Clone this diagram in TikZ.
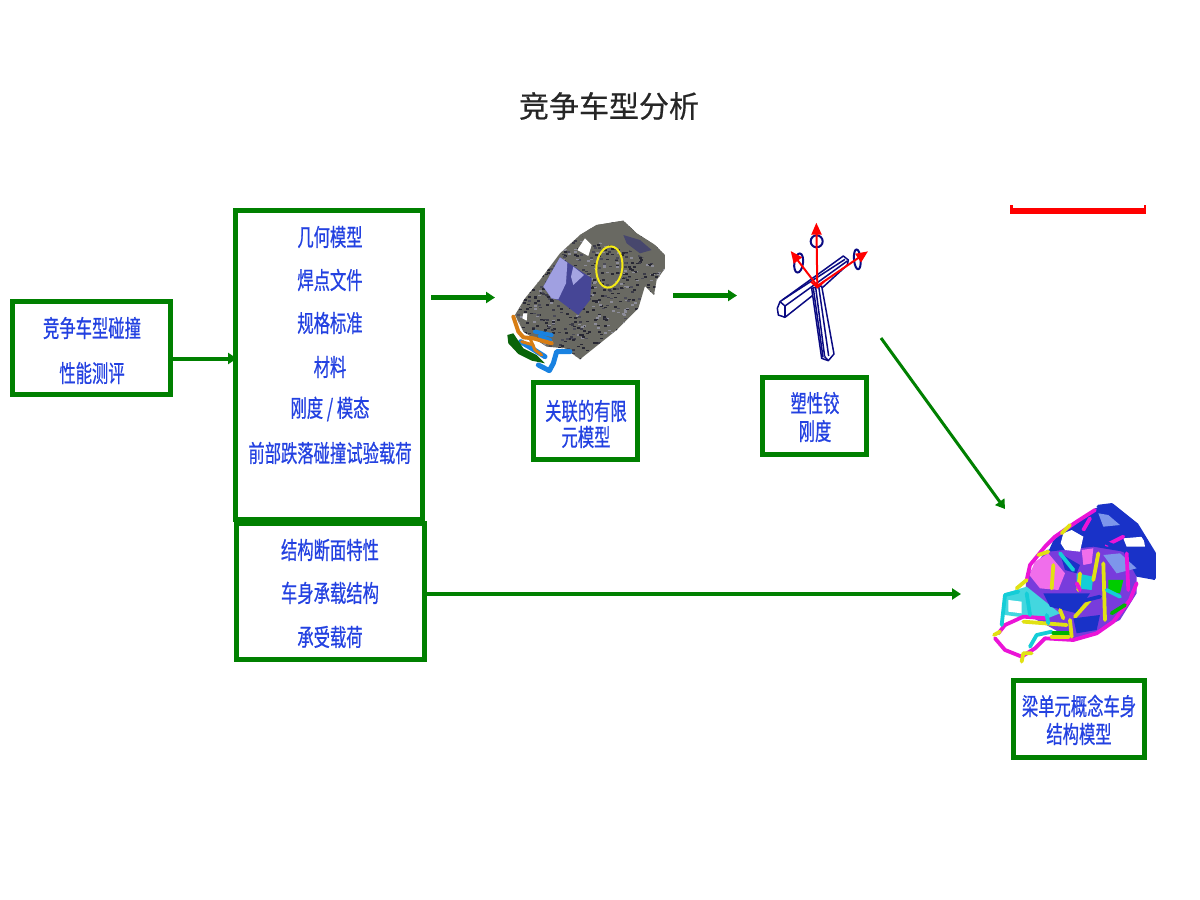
\documentclass[tikz,border=0pt]{standalone}
\usepackage{fontspec}
\setmainfont{Liberation Sans}
\newfontfamily\cjk[FakeStretch=0.68,FakeBold=0.6]{Noto Sans CJK SC}
\newfontfamily\cjktitle[FakeBold=0.5]{Noto Sans CJK SC}
\usetikzlibrary{arrows.meta}
\definecolor{boxgreen}{RGB}{0,128,0}
\definecolor{txtblue}{RGB}{35,65,225}
\definecolor{navyb}{RGB}{10,10,130}
\definecolor{cargray}{RGB}{105,105,98}
\definecolor{mag}{RGB}{235,20,215}
\definecolor{ylw}{RGB}{225,225,20}
\definecolor{cyn}{RGB}{20,205,215}
\definecolor{blu}{RGB}{25,50,200}
\definecolor{pinkm}{RGB}{240,110,235}
\definecolor{partblue}{RGB}{25,130,225}
\definecolor{partorange}{RGB}{215,125,20}
\definecolor{partgreen}{RGB}{10,100,10}
\tikzset{
  gbox/.style={draw=boxgreen,line width=5pt,fill=white,inner sep=0pt,sharp corners},
  tline/.style={font=\cjk\fontsize{24}{24}\selectfont,text=txtblue,inner sep=0pt,anchor=center},
  flow/.style={draw=boxgreen,line width=#1,-{Triangle[length=9pt,width=11pt]}},
  flow/.default=4pt,
  beam/.style={draw=navyb,line width=1.5pt,line join=round},
  redar/.style={draw=red,line width=2pt,-{Triangle[length=12pt,width=10pt]}},
  fmline/.style={line width=3.8pt,line cap=round,line join=round},
  part/.style={line width=#1,line cap=round,line join=round},
  part/.default=4pt,
}
\begin{document}
\begin{tikzpicture}[x=1pt,y=-1pt]
\useasboundingbox (0,0) rectangle (1200,900);
\fill[white] (0,0) rectangle (1200,900);

% title
\node[font=\cjktitle\fontsize{30}{30}\selectfont,text=black!85,inner sep=0pt] (title) at (609,106) {竞争车型分析};

% red bar
\fill[red] (1010,208) rectangle (1146,214);
\fill[red] (1010,205) rectangle (1012.5,214);
\fill[red] (1143.5,205) rectangle (1146,214);

% boxes
\node[gbox,minimum width=158pt,minimum height=93pt] (perf) at (91.5,348) {};
\node[gbox,minimum width=187pt,minimum height=308.5pt] (geo) at (329,364.75) {};
\node[gbox,minimum width=188.5pt,minimum height=136.5pt] (sec) at (330.25,591.25) {};
\node[gbox,minimum width=104pt,minimum height=77pt] (fe) at (585.5,421) {};
\node[gbox,minimum width=104pt,minimum height=77pt] (hinge) at (814.5,416) {};
\node[gbox,minimum width=131pt,minimum height=77pt] (beamc) at (1079,719) {};

% texts
\node[tline] (p1) at (92,328) {竞争车型碰撞};
\node[tline] (p2) at (92,373) {性能测评};
\node[tline] (g1) at (330,237) {几何模型};
\node[tline] (g2) at (330,280) {焊点文件};
\node[tline] (g3) at (330,323) {规格标准};
\node[tline] (g4) at (330,367) {材料};
\node[tline] (g5) at (330,409) {刚度 / 模态};
\node[tline] (g6) at (330,453) {前部跌落碰撞试验载荷};
\node[tline] (s1) at (330,550) {结构断面特性};
\node[tline] (s2) at (330,593) {车身承载结构};
\node[tline] (s3) at (330,637) {承受载荷};
\node[tline] (f1) at (586,411) {关联的有限};
\node[tline] (f2) at (586,437) {元模型};
\node[tline] (h1) at (815,403) {塑性铰};
\node[tline] (h2) at (815,431) {刚度};
\node[tline] (b1) at (1079,706) {梁单元概念车身};
\node[tline] (b2) at (1079,734) {结构模型};

% connector ends
\coordinate (c1) at (431,297.5);
\coordinate (c2) at (495,297.5);
\coordinate (c3) at (673,295.5);
\coordinate (c4) at (737,295.5);
\coordinate (c5) at (881,338);
\coordinate (c6) at (1005,509);
\coordinate (c7) at (961,594);
\coordinate (c8) at (237,358.5);
\coordinate (c9) at (427,594);
\coordinate (c10) at (172,358.5);

\draw[flow=4pt] (c10) -- (c8);
\draw[flow=5pt] (c1) -- (c2);
\draw[flow=5pt] (c3) -- (c4);
\draw[flow=3pt] (c5) -- (c6);
\draw[flow=4pt] (c9) -- (c7);

% ---------- car body (zoom coordinates)
\begin{scope}[shift={(490,200)},x=0.3333pt,y=-0.3333pt]
  \def\carbody{(75,345) -- (105,295) -- (150,240) -- (210,160) -- (270,105) -- (320,75) -- (400,62) -- (440,100) -- (495,135) -- (525,165) -- (525,205) -- (500,240) -- (492,285) -- (465,258) -- (445,325) -- (380,390) -- (270,478) -- (225,445) -- (170,440) -- (100,395) -- cycle}
  \begin{scope}
    \clip \carbody;
    \fill[cargray] (0,0) rectangle (600,540);
    \pgfmathsetseed{7}
    \foreach \i in {1,...,900}{
      \pgfmathsetmacro{\xa}{70+rnd*460}
      \pgfmathsetmacro{\ya}{60+rnd*420}
      \pgfmathsetmacro{\sh}{rnd}
      \pgfmathsetmacro{\gv}{\sh<0.45?40:(\sh<0.7?140:(\sh<0.85?75:60))}
      \pgfmathsetmacro{\gb}{\gv+12}
      \definecolor{spk}{RGB}{\gv,\gv,\gb}
      \fill[spk] (\xa,\ya) rectangle ++(9,5);
    }
    % plain roof and quarter panel
    \fill[cargray] (270,105) -- (320,75) -- (400,62) -- (440,100) -- (495,135) -- (525,165) -- (525,205) -- (490,190) -- (430,155) -- (350,130) -- (300,125) -- cycle;
    \fill[navyb,opacity=.35] (400,105) -- (450,120) -- (485,150) -- (450,160) -- (410,130) -- cycle;
  \end{scope}
  % windscreen
  \fill[fill={rgb,255:red,70;green,70;blue,150}] (210,172) -- (305,235) -- (300,300) -- (265,345) -- (205,300) -- (185,295) -- (160,260) -- cycle;
  \fill[fill={rgb,255:red,160;green,160;blue,225}] (210,172) -- (232,188) -- (228,250) -- (205,298) -- (185,295) -- (160,260) -- cycle;
  \fill[fill={rgb,255:red,165;green,165;blue,225}] (250,200) -- (282,225) -- (250,255) -- (243,230) -- cycle;
  % window openings
  \fill[white] (285,115) -- (305,135) -- (295,168) -- (262,150) -- cycle;
  \fill[white] (100,340) -- (112,340) -- (110,362) -- (97,355) -- cycle;
  % yellow ellipse
  \draw[color={rgb,255:red,245;green,235;blue,20},line width=2pt,rotate around={-6:(358,201)}] (358,201) ellipse (39 and 62);
  % front parts
  \draw[part=4pt,color=partblue] (135,395) -- (185,405);
  \draw[part=4pt,color=partblue] (150,408) -- (180,420);
  \draw[part=5pt,color=partblue] (92,425) -- (125,445) -- (165,470);
  \draw[part=5pt,color=partblue] (240,455) -- (200,455) -- (190,490) -- (178,512) -- (145,495);
  \draw[part=4pt,color=partorange] (70,350) -- (85,395) -- (100,412) -- (130,415) -- (185,430);
  \draw[part=3pt,color=partorange] (120,415) -- (135,450) -- (155,465);
  \draw[part=3pt,color=partorange] (95,425) -- (130,435);
  \fill[color=partgreen] (52,405) -- (70,400) -- (100,445) -- (140,465) -- (165,490) -- (125,482) -- (85,462) -- (55,430) -- cycle;
\end{scope}

% ---------- hinge sketch (zoom coordinates)
\begin{scope}[shift={(750,200)},x=0.3333pt,y=-0.3333pt]
  % cross beam
  \draw[beam,fill=white] (90,305) -- (280,168) -- (295,180) -- (292,195) -- (215,265) -- (105,352) -- (85,345) -- (82,325) -- cycle;
  \draw[beam] (90,305) -- (105,318) -- (292,183);
  \draw[beam] (97,300) -- (285,178);
  \draw[beam] (105,318) -- (105,352);
  % vertical beam
  \draw[beam,fill=white] (185,265) -- (215,258) -- (252,462) -- (235,482) -- (215,475) -- cycle;
  \draw[beam] (197,262) -- (224,470);
  \draw[beam] (206,258) -- (236,468);
  \draw[beam] (224,470) -- (235,482);
  \draw[beam] (190,265) -- (219,472);
  % ellipses
  \draw[beam,line width=2pt] (200,124) ellipse (18 and 18);
  \draw[beam,line width=2pt,rotate around={-8:(146,189)}] (146,189) ellipse (13 and 29);
  \draw[beam,line width=2pt,rotate around={5:(322,178)}] (322,178) ellipse (10 and 30);
  % moment axes
  \coordinate (hc) at (202,258);
  \coordinate (ha) at (199,68);
  \coordinate (hb) at (122,153);
  \coordinate (hd) at (354,154);
  \draw[redar] (hc) -- (ha);
  \draw[redar] (hc) -- (hb);
  \draw[redar] (hc) -- (hd);
  \draw[red,line width=2pt] (183,245) -- (202,262) -- (222,245);
\end{scope}

% ---------- beam model (zoom coordinates)
\begin{scope}[shift={(980,490)},x=0.3333pt,y=-0.3333pt]
  % base patches
  \fill[color={rgb,255:red,120;green,60;blue,220}] (200,180) -- (340,150) -- (470,190) -- (470,310) -- (420,390) -- (340,430) -- (280,450) -- (190,400) -- (130,370) -- (140,260) -- cycle;
  \fill[color=blu] (225,140) -- (345,55) -- (395,42) -- (470,100) -- (525,190) -- (525,270) -- (470,260) -- (430,185) -- (340,170) -- (205,185) -- cycle;
  \fill[color=cyn!80!white] (75,310) -- (140,290) -- (240,370) -- (190,390) -- (75,375) -- cycle;
  \fill[color=pinkm] (165,215) -- (205,190) -- (255,250) -- (235,300) -- (180,295) -- (148,255) -- cycle;
  \fill[color=pinkm] (305,180) -- (340,175) -- (335,220) -- (310,225) -- cycle;
  \fill[color=blu] (190,310) -- (330,310) -- (290,370) -- (210,350) -- cycle;
  \fill[color=blu] (280,385) -- (360,375) -- (350,420) -- (290,430) -- cycle;
  \fill[color=blu] (240,190) -- (300,225) -- (290,250) -- (255,240) -- cycle;
  \fill[color={rgb,255:red,125;green,150;blue,235}] (370,195) -- (420,190) -- (470,235) -- (410,250) -- cycle;
  \fill[color={rgb,255:red,125;green,150;blue,235}] (355,70) -- (385,75) -- (420,105) -- (370,110) -- cycle;
  \fill[color=green!80!black] (385,270) -- (430,270) -- (420,310) -- (385,305) -- cycle;
  \fill[color=cyn] (290,250) -- (340,260) -- (335,300) -- (290,295) -- cycle;
  \fill[color=white] (250,130) -- (275,120) -- (310,140) -- (300,185) -- (255,180) -- (242,160) -- cycle;
  \fill[color=white] (430,145) -- (490,140) -- (495,170) -- (440,170) -- cycle;
  \fill[color=white] (85,330) -- (125,335) -- (125,370) -- (85,365) -- cycle;
  \fill[color=white] (75,410) -- (130,395) -- (185,425) -- (150,480) -- (125,495) -- (70,465) -- (50,435) -- cycle;
  % members
  \draw[fmline,color=mag] (345,60) -- (290,95) -- (225,140) -- (195,170) -- (150,225) -- (140,270);
  \draw[fmline,color=ylw] (175,195) -- (205,185);
  \draw[fmline,color=ylw] (245,130) -- (270,105);
  \draw[fmline,color=ylw] (110,295) -- (140,270);
  \draw[fmline,color=mag] (55,430) -- (75,405) -- (130,380) -- (200,385);
  \draw[fmline,color=mag] (45,445) -- (75,480) -- (125,500) -- (165,475) -- (195,445) -- (280,450) -- (350,430) -- (400,395) -- (450,330) -- (470,280);
  \draw[fmline,color=ylw] (42,435) -- (60,425);
  \draw[fmline,color=ylw] (125,515) -- (130,490) -- (155,490);
  \draw[fmline,color=cyn] (65,405) -- (75,315) -- (115,305);
  \draw[fmline,color=cyn] (150,470) -- (170,435) -- (215,425);
  \draw[fmline,color=ylw] (130,395) -- (260,405);
  \draw[fmline,color=ylw] (215,440) -- (265,440);
  \draw[fmline,color=green!70!black] (220,430) -- (265,430);
  \draw[fmline,color=ylw] (370,220) -- (375,390);
  \draw[fmline,color=ylw] (220,225) -- (215,295);
  \draw[fmline,color=ylw] (300,250) -- (295,300);
  \draw[fmline,color=ylw] (355,190) -- (340,270);
  \draw[fmline,color=ylw] (330,330) -- (285,380);
  \draw[fmline,color=ylw] (270,390) -- (275,440);
  \draw[fmline,color=mag] (310,120) -- (330,85);
  \draw[fmline,color=mag] (440,190) -- (445,300);
  \draw[fmline,color=mag] (380,165) -- (430,140);
  \draw[fmline,color=mag] (300,300) -- (290,280);
  \draw[fmline,color=cyn] (140,310) -- (150,375);
  \draw[fmline,color=cyn] (200,375) -- (205,400);
  \draw[fmline,color=cyn] (240,190) -- (280,240);
  \draw[fmline,color=blu] (355,50) -- (395,45) -- (470,105) -- (522,190) -- (522,265);
  \draw[fmline,color=blu] (395,70) -- (470,130);
  \draw[fmline,color=blu] (300,125) -- (430,180);
  \draw[fmline,color=blu] (280,340) -- (360,320);
  \draw[fmline,color=ylw] (250,385) -- (240,360);
  \draw[fmline,color=green!70!black] (395,370) -- (435,345);
  \draw[fmline,color=cyn] (380,300) -- (420,320);
\end{scope}
\end{tikzpicture}
\end{document}
